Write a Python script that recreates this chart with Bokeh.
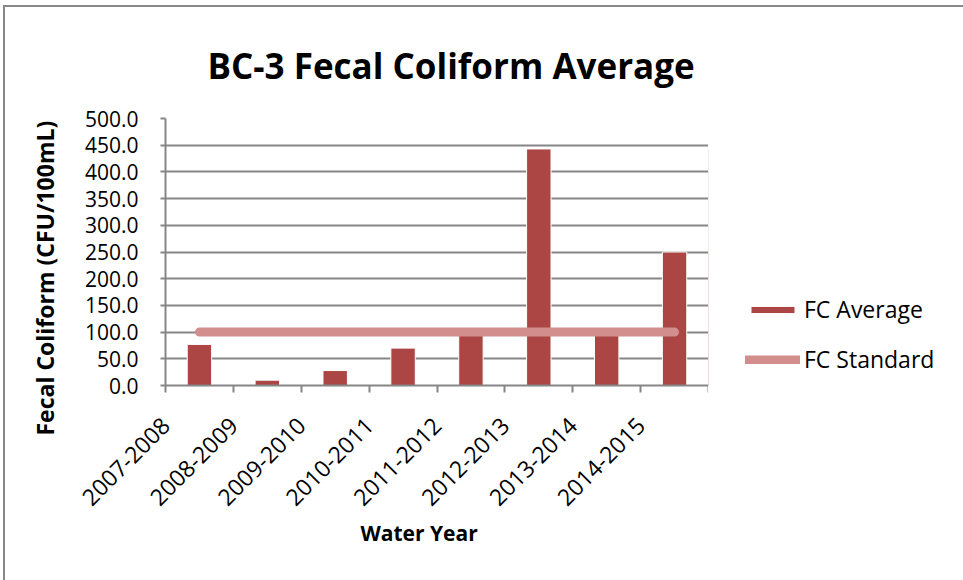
from bokeh.plotting import figure
from bokeh.layouts import row
from bokeh.models import (ColumnDataSource, FixedTicker, Range1d, Legend,
                          LegendItem, NumeralTickFormatter, Title)
from bokeh.embed import file_html
from bokeh.resources import INLINE
import math

# Water years and average fecal coliform counts (CFU/100mL)
water_years = ["2007-2008", "2008-2009", "2009-2010", "2010-2011",
               "2011-2012", "2012-2013", "2013-2014", "2014-2015"]
fc_average = [77.0, 10.0, 28.0, 70.0, 95.0, 443.0, 95.0, 250.0]
fc_standard = [100.0] * len(water_years)
y_ticks = [0, 50, 100, 150, 200, 250, 300, 350, 400, 450, 500]

FONT = "Open Sans"
GRID = "#868686"
BAR = "#AB4644"
LINE = "#D28E8D"

pos = [i + 0.5 for i in range(len(water_years))]
label_pos = [i + 0.002 for i in range(len(water_years))]
src = ColumnDataSource(dict(x=pos, avg=fc_average, std=fc_standard))

p = figure(width=703, height=573, output_backend="svg", toolbar_location=None,
           x_range=Range1d(0, len(water_years)), y_range=Range1d(0, 500),
           min_border_left=158, min_border_right=0,
           min_border_top=111, min_border_bottom=195)
p.outline_line_color = None
p.background_fill_color = "white"
p.border_fill_color = "white"

p.title = Title(text="BC-3 Fecal Coliform Average", align="left", offset=42,
                text_font=FONT, text_font_style="bold", text_font_size="35px",
                text_color="black", standoff=60)

# y axis
p.yaxis.ticker = FixedTicker(ticks=y_ticks)
p.yaxis.formatter = NumeralTickFormatter(format="0.0")
p.yaxis.major_label_text_font = FONT
p.yaxis.major_label_text_font_size = "21px"
p.yaxis.major_label_text_color = "black"
p.yaxis.major_label_standoff = 22
p.yaxis.axis_line_color = GRID
p.yaxis.axis_line_width = 2
p.yaxis.major_tick_line_color = GRID
p.yaxis.major_tick_line_width = 2
p.yaxis.major_tick_out = 5
p.yaxis.major_tick_in = 0
p.yaxis.minor_tick_line_color = None

# x axis: rotated labels hang left of each category, tick marks at boundaries
p.xaxis.ticker = FixedTicker(ticks=label_pos,
                             minor_ticks=list(range(len(water_years) + 1)))
p.xaxis.major_label_overrides = {x: w for x, w in zip(label_pos, water_years)}
p.xaxis.major_label_orientation = math.pi / 4
p.xaxis.major_label_text_font = FONT
p.xaxis.major_label_text_font_size = "23px"
p.xaxis.major_label_text_color = "black"
p.xaxis.major_label_standoff = 29
p.xaxis.major_tick_line_color = None
p.xaxis.minor_tick_line_color = GRID
p.xaxis.minor_tick_line_width = 2
p.xaxis.minor_tick_in = 0
p.xaxis.minor_tick_out = 7
p.xaxis.axis_line_color = GRID
p.xaxis.axis_line_width = 2

# axis titles as panel titles so they can be placed along the axis
p.add_layout(Title(text="Fecal Coliform (CFU/100mL)", align="left", offset=-50,
                   text_font=FONT, text_font_style="bold", text_font_size="23px",
                   text_color="black", standoff=42), "left")
p.add_layout(Title(text="Water Year", align="left", offset=195,
                   text_font=FONT, text_font_style="bold", text_font_size="21px",
                   text_color="black", standoff=0), "below")

p.xgrid.grid_line_color = None
p.ygrid.ticker = FixedTicker(ticks=y_ticks)
p.ygrid.grid_line_color = GRID
p.ygrid.grid_line_width = 2

p.vbar(x="x", top="avg", width=0.36, source=src,
       fill_color=BAR, line_color="white", line_width=1)
p.line(x="x", y="std", source=src, line_color=LINE, line_width=9,
       line_cap="round")

# legend panel to the right of the chart; its glyphs share the data source
# but the view range keeps them out of sight, so only the legend shows
leg = figure(width=255, height=573, output_backend="svg", toolbar_location=None,
             x_range=Range1d(100, 101), y_range=Range1d(0, 500),
             min_border=0, x_axis_type=None, y_axis_type=None)
leg.outline_line_color = None
leg.grid.grid_line_color = None
leg.border_fill_color = "white"
leg.background_fill_color = "white"
key_bar = leg.vbar(x="x", top="avg", width=0.36, source=src, fill_color=BAR,
                   line_color="white", line_width=1)
key_line = leg.line(x="x", y="std", source=src, line_color=LINE, line_width=9,
                    line_cap="round")

legend = Legend(items=[LegendItem(label="FC Average", renderers=[key_bar]),
                       LegendItem(label="FC Standard", renderers=[key_line])],
                location=(37, 10), orientation="vertical")
legend.label_text_font = FONT
legend.label_text_font_size = "23px"
legend.label_text_color = "black"
legend.glyph_width = 55
legend.glyph_height = 9
legend.spacing = 18
legend.padding = 0
legend.margin = 0
legend.label_standoff = 4
legend.border_line_color = None
legend.background_fill_alpha = 0
leg.add_layout(legend, "center")

page = row(p, leg, spacing=0)
page.styles = {"border-top": "2px solid #888888", "border-left": "2px solid #888888",
               "margin-left": "3px", "margin-top": "5px"}

open("out.html", "w").write(file_html(page, INLINE))
